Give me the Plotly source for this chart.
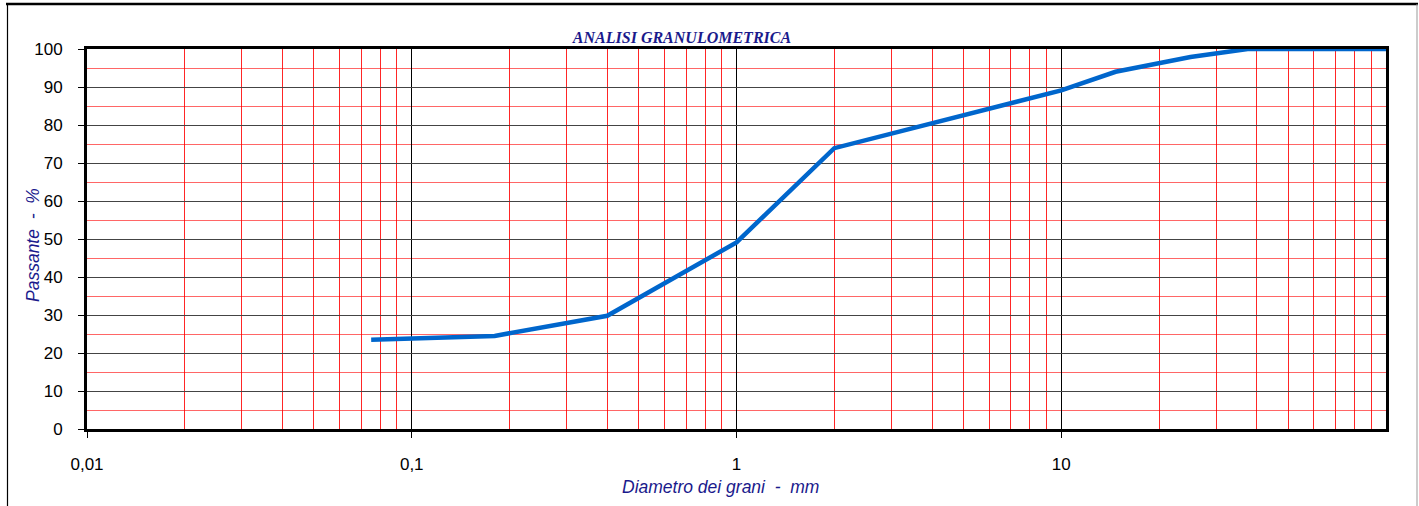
import plotly.graph_objects as go

# Data: grain size distribution
diametro_mm = [0.075, 0.18, 0.4, 1.0, 2.0, 10.0, 14.7, 25.0, 37.5, 100.0]
passante_pct = [23.5, 24.5, 29.8, 49.1, 73.9, 89.1, 94.0, 97.9, 100.0, 100.0]

x_tick_vals = [0.01, 0.1, 1, 10]
x_tick_text = ["0,01", "0,1", "1", "10"]
x_minor_vals = [m * d for d in [0.01, 0.1, 1, 10] for m in range(2, 10)]
y_tick_vals = list(range(0, 101, 10))

navy = "#1a1a8c"
W, H = 1419, 506
L, R, T, B = 87, 33, 49, 77
PW, PH = W - L - R, H - T - B


def px(x):
    return (x - L) / PW


def py(y):
    return (H - B - y) / PH


fig = go.Figure()
fig.add_trace(go.Scatter(
    x=diametro_mm, y=passante_pct, mode="lines",
    line=dict(color="#0066CC", width=4.5),
    showlegend=False, hoverinfo="x+y",
))

fig.update_layout(
    width=W, height=H,
    margin=dict(l=L, r=R, t=T, b=B),
    paper_bgcolor="white", plot_bgcolor="white",
    font=dict(family="Liberation Sans, Arial, sans-serif", size=17, color="black"),
    title=dict(
        text="<b><i>ANALISI GRANULOMETRICA</i></b>",
        font=dict(family="Liberation Serif, Times New Roman, serif", size=16, color=navy),
        x=682 / W, xanchor="center", y=1 - 37 / H, yanchor="middle",
    ),
    shapes=[
        dict(type="line", xref="paper", yref="paper", x0=px(6), x1=px(1418), y0=py(4), y1=py(4),
             line=dict(color="black", width=2.5)),
        dict(type="line", xref="paper", yref="paper", x0=px(7.5), x1=px(7.5), y0=py(4), y1=py(510),
             line=dict(color="black", width=1.2)),
        dict(type="line", xref="paper", yref="paper", x0=px(1417), x1=px(1417), y0=py(4), y1=py(510),
             line=dict(color="#999999", width=1)),
    ],
    annotations=[
        dict(text="<i>Diametro dei grani&nbsp;&nbsp;-&nbsp;&nbsp;mm</i>", xref="paper", yref="paper",
             x=px(720), y=py(487), xanchor="center", yanchor="middle", showarrow=False,
             font=dict(family="Liberation Sans, Arial, sans-serif", size=17.5, color=navy)),
        dict(text="<i>Passante&nbsp;&nbsp;-&nbsp;&nbsp;%</i>", xref="paper", yref="paper",
             x=px(33), y=py(245), xanchor="center", yanchor="middle", showarrow=False,
             textangle=-90,
             font=dict(family="Liberation Sans, Arial, sans-serif", size=17.5, color=navy)),
    ],
)

fig.update_xaxes(
    type="log", range=[-2, 2],
    tickmode="array", tickvals=x_tick_vals, ticktext=x_tick_text,
    ticks="outside", ticklen=6, tickcolor="black", tickwidth=1,
    ticklabelstandoff=12,
    showgrid=True, gridcolor="black", gridwidth=1,
    minor=dict(tickmode="array", tickvals=x_minor_vals, showgrid=True,
               gridcolor="rgba(255,0,0,0.85)", gridwidth=1, ticks=""),
    showline=True, linecolor="black", linewidth=3, mirror=True,
    zeroline=False,
)
fig.update_yaxes(
    range=[0, 100],
    tickmode="array", tickvals=y_tick_vals,
    ticks="outside", ticklen=6, tickcolor="black", tickwidth=1,
    ticklabelstandoff=12,
    showgrid=True, gridcolor="#444444", gridwidth=1,
    minor=dict(dtick=5, tick0=0, showgrid=True,
               gridcolor="rgba(255,0,0,0.6)", gridwidth=1, ticks=""),
    showline=True, linecolor="black", linewidth=3, mirror=True,
    zeroline=False,
)

fig.write_html("out.html", config={"displayModeBar": False},
               post_script="document.body.style.margin='0px';")
